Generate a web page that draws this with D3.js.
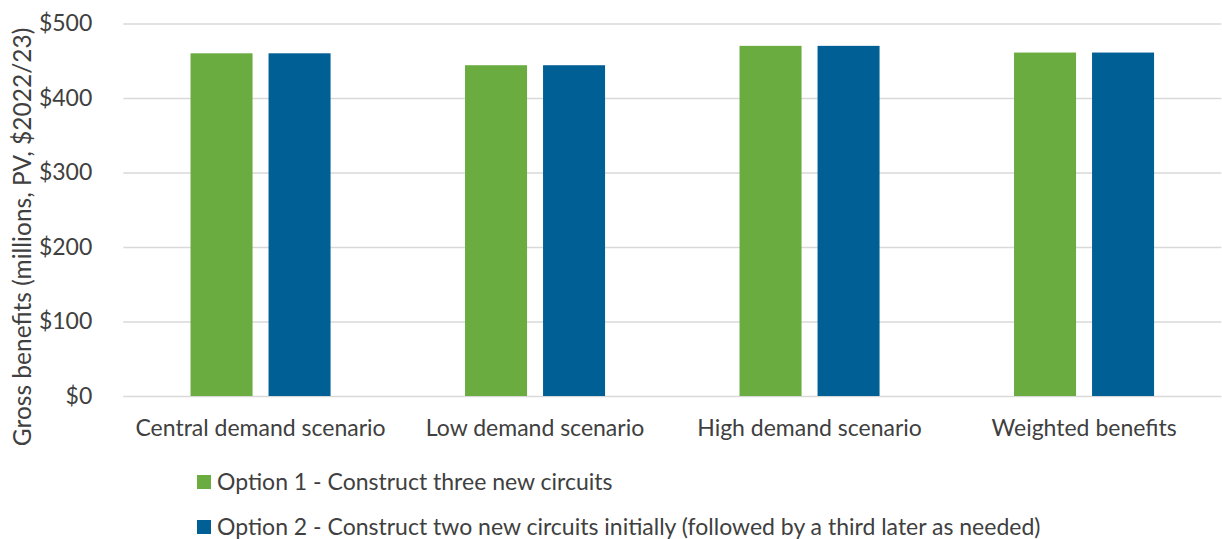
<!DOCTYPE html>
<html>
<head>
<meta charset="utf-8">
<script src="https://cdn.jsdelivr.net/npm/d3@7"></script>
<style>
  html, body { margin: 0; padding: 0; background: #fff; }
  svg { display: block; font-family: "Lato", "Open Sans", sans-serif; }
</style>
</head>
<body>
<svg id="chart" width="1222" height="539"></svg>
<script>
// Gross benefits by demand scenario, $m PV ($2022/23)
const categories = ["Central demand scenario", "Low demand scenario", "High demand scenario", "Weighted benefits"];
const seriesNames = [
  "Option 1 - Construct three new circuits",
  "Option 2 - Construct two new circuits initially (followed by a third later as needed)"
];
const option1Values = [460, 444, 470, 461];
const option2Values = [460, 444, 470, 461];
const yTicks = [0, 100, 200, 300, 400, 500];
const colors = ["#6AAC40", "#005F95"];

const seriesValues = [option1Values, option2Values];
const rows = categories.map((c, i) => ({
  category: c,
  values: seriesNames.map((s, j) => ({ series: s, value: seriesValues[j][i] }))
}));

const svg = d3.select("#chart");
const plot = { left: 123.3, right: 1221.3, top: 23.5, bottom: 396 };
const textColor = "#404040";
const labelSize = 23;

const y = d3.scaleLinear().domain([0, 500]).range([plot.bottom, plot.top]);
const x0 = d3.scaleBand().domain(categories).range([plot.left, plot.right]).padding(0);
const x1 = d3.scaleBand().domain(seriesNames).range([0, x0.bandwidth()])
  .paddingInner(0.205).paddingOuter(0.862);
const color = d3.scaleOrdinal().domain(seriesNames).range(colors);

// value gridlines and dollar tick labels
const yAxis = d3.axisLeft(y).tickValues(yTicks).tickSize(-(plot.right - plot.left))
  .tickFormat(d => "$" + d).tickPadding(31);
const gy = svg.append("g").attr("transform", `translate(${plot.left},0)`).call(yAxis);
gy.select(".domain").remove();
gy.selectAll(".tick line").attr("stroke", "#d9d9d9").attr("stroke-width", 1.5);
gy.selectAll(".tick text").attr("fill", textColor).attr("font-size", labelSize)
  .attr("font-family", "Lato, sans-serif");

// grouped bars
const groups = svg.append("g").selectAll("g").data(rows).join("g")
  .attr("transform", d => `translate(${x0(d.category)},0)`);
groups.selectAll("rect").data(d => d.values).join("rect")
  .attr("x", d => x1(d.series))
  .attr("width", x1.bandwidth())
  .attr("y", d => y(d.value))
  .attr("height", d => y(0) - y(d.value))
  .attr("fill", d => color(d.series));

// category labels
const xAxis = d3.axisBottom(x0).tickSize(0).tickPadding(23.5);
const gx = svg.append("g").attr("transform", `translate(0,${plot.bottom})`).call(xAxis);
gx.select(".domain").remove();
gx.selectAll(".tick text").attr("fill", textColor).attr("font-size", labelSize)
  .attr("font-family", "Lato, sans-serif");

// y axis title
svg.append("text")
  .attr("transform", `translate(31,237) rotate(-90)`)
  .attr("text-anchor", "middle")
  .attr("fill", textColor)
  .attr("font-size", 24.5)
  .text("Gross benefits (millions, PV, $2022/23)");

// legend
const legend = svg.append("g").selectAll("g").data(seriesNames).join("g")
  .attr("transform", (d, i) => `translate(197,${475 + i * 45})`);
legend.append("rect").attr("width", 14).attr("height", 14).attr("fill", d => color(d));
legend.append("text").attr("x", 20).attr("y", 14.5).attr("fill", textColor)
  .attr("font-size", labelSize).text(d => d);
</script>
</body>
</html>
